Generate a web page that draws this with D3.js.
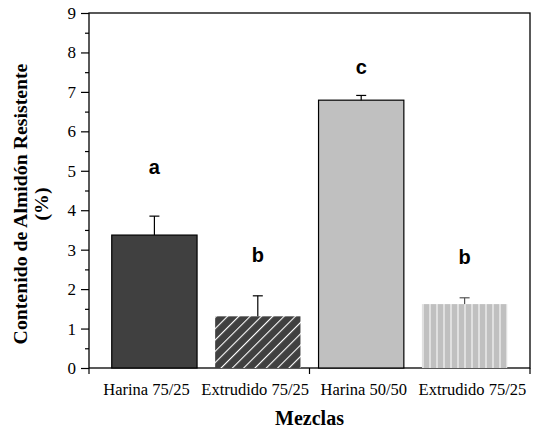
<!DOCTYPE html>
<html>
<head>
<meta charset="utf-8">
<script src="https://cdn.jsdelivr.net/npm/d3@7"></script>
<style>
  body { margin: 0; background: #fff; }
  svg { display: block; }
  .serif { font-family: "Liberation Serif", "Times New Roman", serif; }
  .sans { font-family: "Liberation Sans", Arial, sans-serif; }
</style>
</head>
<body>
<div id="chart"></div>
<script>
"use strict";

const categories = ["Harina 75/25", "Extrudido 75/25", "Harina 50/50", "Extrudido 75/25 "];
const values = [3.37, 1.31, 6.79, 1.62];
const errors = [0.48, 0.52, 0.12, 0.16];
const letters = ["a", "b", "c", "b"];
const letterY = [4.92, 2.69, 7.45, 2.64];
const yTicks = [0, 1, 2, 3, 4, 5, 6, 7, 8, 9];
const yMinor = [0.5, 1.5, 2.5, 3.5, 4.5, 5.5, 6.5, 7.5, 8.5];

const W = 540, H = 439;
const plotLeft = 89, plotRight = 530, plotTop = 13, plotBottom = 368;

const svg = d3.select("#chart").append("svg")
  .attr("width", W).attr("height", H);

// patterns for the two extruded bars
const defs = svg.append("defs");
const hatch = defs.append("pattern")
  .attr("id", "hatch")
  .attr("patternUnits", "userSpaceOnUse")
  .attr("width", 8).attr("height", 8)
  .attr("patternTransform", "rotate(45)");
hatch.append("rect").attr("width", 8).attr("height", 8).attr("fill", "#404040");
hatch.append("line").attr("x1", 0).attr("y1", 0).attr("x2", 0).attr("y2", 8)
  .attr("stroke", "#fff").attr("stroke-width", 2.2);

const stripes = defs.append("pattern")
  .attr("id", "stripes")
  .attr("patternUnits", "userSpaceOnUse")
  .attr("x", 423.5)
  .attr("width", 7).attr("height", 10);
stripes.append("rect").attr("width", 7).attr("height", 10).attr("fill", "#fff");
stripes.append("rect").attr("width", 6).attr("height", 10).attr("fill", "#c0c0c0");

const fills = ["#404040", "url(#hatch)", "#c0c0c0", "url(#stripes)"];
const strokes = ["#000", "none", "#000", "none"];
const errColors = ["#000", "#000", "#000", "#555"];

const x = d3.scaleBand().domain(categories).range([plotLeft, plotRight])
  .paddingInner(0.175).paddingOuter(0.22);
// the category labels are spread a little wider than the bars
const xLabel = d3.scaleBand().domain(categories).range([plotLeft, plotRight])
  .paddingInner(0).paddingOuter(0.03);
const y = d3.scaleLinear().domain([0, 9]).range([plotBottom, plotTop]);

// frame
svg.append("rect")
  .attr("x", plotLeft).attr("y", plotTop)
  .attr("width", plotRight - plotLeft).attr("height", plotBottom - plotTop)
  .attr("fill", "none").attr("stroke", "#000").attr("stroke-width", 1.3);

// bars
svg.append("g").selectAll("rect")
  .data(categories)
  .join("rect")
  .attr("x", (d) => x(d))
  .attr("y", (d, i) => y(values[i]))
  .attr("width", x.bandwidth())
  .attr("height", (d, i) => y(0) - y(values[i]))
  .attr("fill", (d, i) => fills[i])
  .attr("stroke", (d, i) => strokes[i])
  .attr("stroke-width", 1.2);

// error bars (upper only)
const err = svg.append("g");
categories.forEach((c, i) => {
  const cx = x(c) + x.bandwidth() / 2;
  err.append("line")
    .attr("x1", cx).attr("x2", cx)
    .attr("y1", y(values[i])).attr("y2", y(values[i] + errors[i]))
    .attr("stroke", errColors[i]).attr("stroke-width", 1.2);
  err.append("line")
    .attr("x1", cx - 5).attr("x2", cx + 5)
    .attr("y1", y(values[i] + errors[i])).attr("y2", y(values[i] + errors[i]))
    .attr("stroke", errColors[i]).attr("stroke-width", 1.2);
});

// significance letters
svg.append("g").selectAll("text")
  .data(letters)
  .join("text")
  .attr("class", "sans")
  .attr("x", (d, i) => x(categories[i]) + x.bandwidth() / 2)
  .attr("y", (d, i) => y(letterY[i]))
  .attr("text-anchor", "middle")
  .attr("font-weight", "bold")
  .attr("font-size", 20)
  .text((d) => d);

// y axis
const yAxis = svg.append("g")
  .attr("transform", `translate(${plotLeft},0)`)
  .call(d3.axisLeft(y).tickValues(yTicks).tickSize(8).tickPadding(5).tickFormat(d3.format("d")));
yAxis.attr("font-family", null).attr("font-size", null);
yAxis.select(".domain").remove();
yAxis.selectAll("line").attr("stroke-width", 1.2);
yAxis.selectAll("text")
  .attr("class", "serif")
  .attr("font-size", 17).attr("fill", "#000");

svg.append("g")
  .attr("transform", `translate(${plotLeft},0)`)
  .call(d3.axisLeft(y).tickValues(yMinor).tickSize(4).tickFormat(""))
  .call((g) => g.select(".domain").remove())
  .selectAll("line").attr("stroke-width", 1.2);

// x axis: ticks at the ends and the middle only
const xTickPos = [plotLeft, (plotLeft + plotRight) / 2, plotRight];
svg.append("g").selectAll("line")
  .data(xTickPos)
  .join("line")
  .attr("x1", (d) => d).attr("x2", (d) => d)
  .attr("y1", plotBottom).attr("y2", plotBottom + 6)
  .attr("stroke", "#000").attr("stroke-width", 1.2);

svg.append("g").selectAll("text")
  .data(categories)
  .join("text")
  .attr("class", "serif")
  .attr("x", (d) => xLabel(d) + xLabel.bandwidth() / 2)
  .attr("y", 395)
  .attr("text-anchor", "middle")
  .attr("font-size", 16.5)
  .text((d) => d.trim());

// axis titles
svg.append("text")
  .attr("class", "serif")
  .attr("x", (plotLeft + plotRight) / 2).attr("y", 425)
  .attr("text-anchor", "middle")
  .attr("font-weight", "bold").attr("font-size", 20)
  .text("Mezclas");

const yt = svg.append("text")
  .attr("class", "serif")
  .attr("transform", "translate(27,204) rotate(-90)")
  .attr("text-anchor", "middle")
  .attr("font-weight", "bold").attr("font-size", 19.8);
yt.append("tspan").attr("x", 0).attr("y", 0).text("Contenido de Almidón Resistente");
yt.append("tspan").attr("x", 0).attr("y", 21).text("(%)");
</script>
</body>
</html>
